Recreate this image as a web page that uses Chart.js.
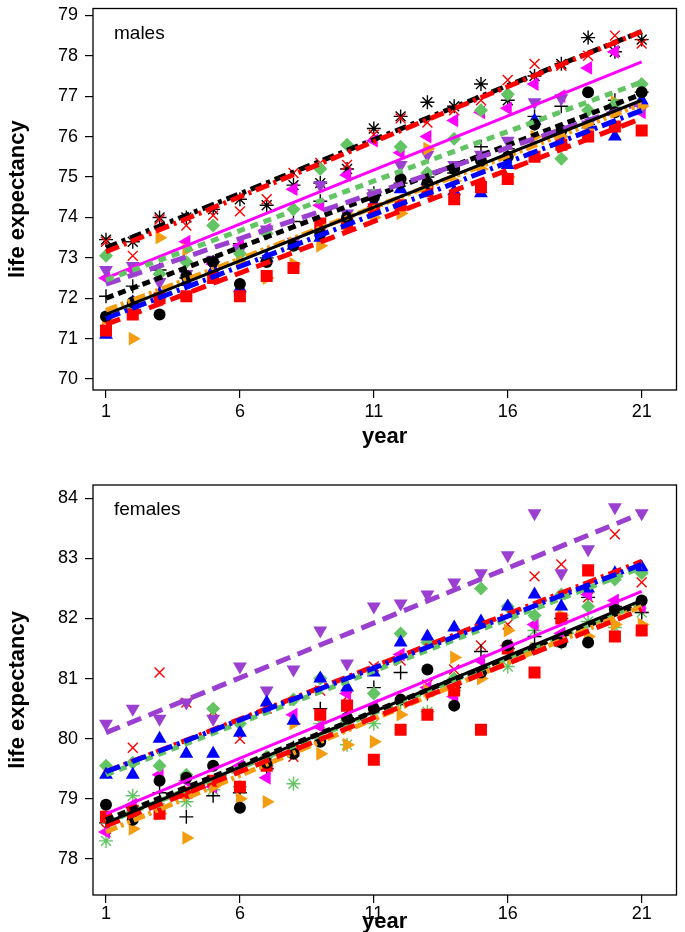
<html lang="en">
<head>
<meta charset="UTF-8">
<title>life expectancy</title>
<script src="https://cdn.jsdelivr.net/npm/chart.js"></script>
<style>
  body { margin: 0; background: #fff; }
  canvas { position: absolute; left: 0; }
  #top { top: 0; }
  #bottom { top: 465px; }
</style>
</head>
<body>
<canvas id="top" width="685" height="460"></canvas>
<canvas id="bottom" width="685" height="467"></canvas>

<script>
// x values
const years = [1, 2, 3, 4, 5, 6, 7, 8, 9, 10, 11, 12, 13, 14, 15, 16, 17, 18, 19, 20, 21];
const xTicks = [1, 6, 11, 16, 21];
const yTicksMales = [70, 71, 72, 73, 74, 75, 76, 77, 78, 79];
const yTicksFemales = [78, 79, 80, 81, 82, 83, 84];

// males, points
const mCircle   = [71.55, 71.9, 71.6, 72.55, 72.9, 72.35, 72.9, 73.3, 73.6, 74.0, 74.5, 74.95, 74.85, 75.2, 75.4, 75.5, 76.3, 76.15, 77.1, 76.6, 77.1];
const mSquare   = [71.2, 71.6, 72.0, 72.05, 72.5, 72.05, 72.55, 72.75, 73.85, 73.85, 74.2, 74.3, 74.65, 74.45, 74.75, 74.95, 75.5, 75.8, 76.0, 76.25, 76.15];
const mTriangle = [71.1, 71.9, 72.1, 72.4, 72.7, 72.25, 73.0, 73.3, 73.5, 74.0, 74.35, 74.7, 74.9, 74.65, 74.6, 75.3, 76.4, 75.9, 76.3, 76.0, 76.9];
const mDiamond  = [73.05, 71.75, 72.6, 72.9, 73.8, 73.1, 73.6, 74.2, 75.2, 75.8, 74.55, 75.75, 75.1, 75.95, 76.65, 77.05, 76.3, 75.45, 76.65, 76.8, 77.3];
const mRight    = [71.5, 71.0, 73.5, 73.2, 72.55, 72.9, 72.5, 72.85, 73.3, 73.7, 74.0, 74.1, 75.7, 74.9, 75.2, 75.0, 76.0, 76.0, 76.2, 76.85, 76.75];
const mDown     = [72.7, 72.8, 72.4, 72.6, 72.95, 73.2, 73.7, 73.4, 74.8, 74.1, 74.6, 75.3, 75.55, 75.3, 75.55, 75.9, 76.85, 76.95, 76.3, 76.2, 76.7];
const mLeft     = [72.5, 72.7, 72.05, 73.4, 72.85, 73.3, 73.7, 74.7, 74.3, 75.05, 75.9, 75.6, 76.0, 76.4, 76.6, 76.7, 77.3, 77.0, 77.7, 78.1, 76.6];
const mPlus     = [72.05, 72.3, 72.7, 72.5, 72.9, 73.35, 73.0, 73.9, 74.4, 73.9, 74.6, 74.85, 75.0, 75.1, 75.75, 75.7, 76.5, 76.75, 76.3, 76.9, 77.1];
const mCross    = [73.4, 73.05, 73.95, 73.8, 74.05, 74.15, 74.45, 75.1, 75.35, 75.3, 76.05, 76.45, 76.35, 76.65, 76.9, 77.4, 77.8, 77.75, 78.0, 78.5, 78.3];
const mStar     = [73.45, 73.4, 74.0, 74.0, 74.2, 74.45, 74.3, 74.8, 74.85, 75.2, 76.2, 76.5, 76.85, 76.75, 77.3, 76.9, 77.5, 77.8, 78.45, 78.1, 78.4];

// males, fitted lines: value at year 1 and at year 21
const mCircleFit   = [71.6, 76.9];
const mSquareFit   = [71.35, 76.45];
const mTriangleFit = [71.5, 76.65];
const mDiamondFit  = [72.45, 77.35];
const mRightFit    = [71.7, 76.8];
const mDownFit     = [72.35, 76.85];
const mLeftFit     = [72.5, 77.85];
const mPlusFit     = [72.0, 77.05];
const mCrossFit    = [73.15, 78.6];
const mStarFit     = [73.25, 78.6];

// females, points
const fCircle   = [78.9, 78.65, 79.3, 79.35, 79.55, 78.85, 79.6, 79.75, 79.95, 80.35, 80.5, 80.65, 81.15, 80.55, 81.1, 81.55, 81.5, 81.6, 81.6, 82.15, 82.3];
const fSquare   = [78.7, 78.8, 78.75, 79.1, 79.3, 79.2, 79.55, 79.8, 80.4, 80.55, 79.65, 80.15, 80.4, 80.8, 80.15, 81.5, 81.1, 82.0, 82.8, 81.7, 81.8];
const fTriangle = [79.4, 79.4, 80.0, 79.75, 79.75, 80.1, 80.6, 80.3, 81.0, 80.85, 81.1, 81.6, 81.7, 81.85, 81.95, 82.2, 82.4, 82.2, 82.5, 82.75, 82.85];
const fDiamond  = [79.55, 79.6, 79.55, 79.4, 80.5, 80.25, 79.7, 80.65, 81.0, 80.3, 80.75, 81.75, 81.6, 81.0, 82.5, 82.2, 82.05, 82.4, 82.2, 82.65, 82.75];
const fRight    = [78.7, 78.5, 78.75, 78.35, 79.2, 79.0, 78.95, 80.25, 79.75, 79.9, 79.95, 80.4, 80.8, 81.35, 81.0, 81.8, 81.5, 82.05, 81.7, 81.9, 81.9];
const fDown     = [80.25, 80.5, 80.33, 80.6, 80.33, 81.2, 80.8, 81.15, 81.8, 81.25, 82.2, 82.25, 82.4, 82.6, 82.75, 83.05, 83.75, 82.75, 83.15, 83.85, 83.75];
const fLeft     = [78.45, 78.9, 79.4, 79.3, 79.2, 79.55, 79.35, 80.4, 80.2, 80.75, 80.55, 81.4, 80.85, 80.7, 81.3, 81.55, 81.9, 81.75, 82.4, 82.3, 82.2];
const fPlus     = [78.6, 78.85, 79.1, 78.7, 79.05, 79.1, 79.5, 79.85, 80.5, 80.35, 80.85, 81.1, 80.75, 80.85, 81.45, 81.5, 81.7, 82.0, 82.35, 82.2, 82.1];
const fCross    = [78.5, 79.85, 81.1, 80.6, 80.45, 80.0, 80.5, 79.7, 80.8, 80.7, 81.2, 81.3, 80.9, 81.15, 81.55, 81.9, 82.7, 82.9, 82.35, 83.4, 82.6];
const fGStar    = [78.3, 79.05, 78.85, 78.95, 79.15, 79.2, 79.55, 79.25, 80.25, 79.9, 80.25, 80.6, 80.45, 80.8, 81.1, 81.2, 81.8, 81.6, 81.95, 81.85, 82.1];

// females, fitted lines
const fCircleFit   = [78.6, 82.3];
const fSquareFit   = [78.55, 82.15];
const fTriangleFit = [79.45, 82.9];
const fDiamondFit  = [79.4, 82.85];
const fRightFit    = [78.45, 82.2];
const fDownFit     = [80.1, 83.75];
const fLeftFit     = [78.75, 82.45];
const fPlusFit     = [78.65, 82.25];
const fCrossFit    = [79.45, 82.95];
const fGStarFit    = [78.6, 82.25];

// marker + line look for each group
const look = {
  circle:   { color: '#000000', pointStyle: 'circle',   rotation: 0,   radius: 6,   dash: [],             width: 3 },
  square:   { color: '#ff0000', pointStyle: 'rect',     rotation: 0,   radius: 8.5, dash: [15, 8],        width: 5 },
  triangle: { color: '#0000ff', pointStyle: 'triangle', rotation: 0,   radius: 8,   dash: [15, 5, 3, 5],  width: 5 },
  diamond:  { color: '#63c463', pointStyle: 'rectRot',  rotation: 0,   radius: 7,   dash: [8, 6],         width: 5 },
  right:    { color: '#f59d10', pointStyle: 'triangle', rotation: 90,  radius: 8,   dash: [12, 4, 3, 4, 3, 4], width: 5 },
  down:     { color: '#9a3fcf', pointStyle: 'triangle', rotation: 180, radius: 8,   dash: [15, 8],        width: 5 },
  left:     { color: '#ff00ff', pointStyle: 'triangle', rotation: 270, radius: 8,   dash: [],             width: 3 },
  plus:     { color: '#000000', pointStyle: 'cross',    rotation: 0,   radius: 7,   dash: [8, 5],         width: 5 },
  cross:    { color: '#ff0000', pointStyle: 'crossRot', rotation: 0,   radius: 7,   dash: [14, 5, 3, 5],  width: 5 },
  star:     { color: '#000000', pointStyle: 'star',     rotation: 0,   radius: 7,   dash: [12, 5, 4, 5],  width: 5 },
  gstar:    { color: '#63c463', pointStyle: 'star',     rotation: 0,   radius: 7,   dash: [10, 5],        width: 5 }
};

const FONT = '"Liberation Sans", Arial, sans-serif';

function buildDatasets(groups) {
  let ds = [];
  // points first
  groups.forEach(g => {
    let lk = look[g.key];
    let open = ['cross', 'crossRot', 'star'].includes(lk.pointStyle);
    ds.push({
      type: 'scatter',
      data: years.map((x, i) => ({ x: x, y: g.values[i] })),
      pointStyle: lk.pointStyle,
      rotation: lk.rotation,
      radius: lk.radius,
      backgroundColor: lk.color,
      borderColor: lk.color,
      borderWidth: open ? 1.4 : 0,
      order: 2
    });
  });
  // then the fitted lines on top
  groups.forEach(g => {
    let lk = look[g.key];
    ds.push({
      type: 'line',
      data: [{ x: years[0], y: g.fit[0] }, { x: years[years.length - 1], y: g.fit[1] }],
      borderColor: lk.color,
      borderWidth: lk.width,
      borderDash: lk.dash,
      pointRadius: 0,
      fill: false,
      order: 1
    });
  });
  return ds;
}

// frame round the plot area plus the panel label
const frame = {
  id: 'frame',
  afterDraw(chart, args, opts) {
    let a = chart.chartArea;
    let ctx = chart.ctx;
    ctx.save();
    ctx.strokeStyle = '#000';
    ctx.lineWidth = 1.3;
    ctx.strokeRect(a.left, a.top, a.right - a.left, a.bottom - a.top);
    ctx.fillStyle = '#000';
    ctx.font = '19px ' + FONT;
    ctx.textBaseline = 'middle';
    ctx.fillText(opts.label, a.left + 21, a.top + 25);
    ctx.restore();
  }
};

function makeChart(id, groups, yMin, yMax, yTicks, cfg) {
  let ctx = document.getElementById(id).getContext('2d');
  return new Chart(ctx, {
    data: { datasets: buildDatasets(groups) },
    options: {
      responsive: false,
      animation: false,
      layout: { padding: { top: cfg.padTop, right: 8, left: 0, bottom: 0 } },
      plugins: { legend: { display: false }, tooltip: { enabled: false }, frame: { label: cfg.label } },
      scales: {
        x: {
          type: 'linear',
          min: 0.515,
          max: 22.3,
          afterBuildTicks: s => { s.ticks = xTicks.map(v => ({ value: v })); },
          afterFit: s => { s.height = cfg.xHeight; s.paddingLeft = 0; s.paddingRight = 0; },
          grid: { drawOnChartArea: false, drawTicks: true, tickLength: 8, color: '#000', lineWidth: 1.2 },
          border: { display: false },
          ticks: { color: '#000', padding: cfg.xTickPad, maxRotation: 0, font: { size: 18, family: FONT } },
          title: { display: true, text: 'year', color: '#000', padding: { top: 0, bottom: cfg.xTitlePad },
                   font: { size: 22, weight: 'bold', family: FONT } }
        },
        y: {
          type: 'linear',
          min: yMin,
          max: yMax,
          afterBuildTicks: s => { s.ticks = yTicks.map(v => ({ value: v })); },
          afterFit: s => { s.width = 93; s.paddingTop = 0; s.paddingBottom = 0; },
          grid: { drawOnChartArea: false, drawTicks: true, tickLength: 8, color: '#000', lineWidth: 1.2 },
          border: { display: false },
          ticks: { color: '#000', padding: 7, font: { size: 18, family: FONT } },
          title: { display: true, text: 'life expectancy', color: '#000', padding: { top: 5, bottom: 0 },
                   font: { size: 22, weight: 'bold', family: FONT } }
        }
      }
    },
    plugins: [frame]
  });
}

makeChart('top', [
  { key: 'circle', values: mCircle, fit: mCircleFit },
  { key: 'square', values: mSquare, fit: mSquareFit },
  { key: 'triangle', values: mTriangle, fit: mTriangleFit },
  { key: 'diamond', values: mDiamond, fit: mDiamondFit },
  { key: 'right', values: mRight, fit: mRightFit },
  { key: 'down', values: mDown, fit: mDownFit },
  { key: 'left', values: mLeft, fit: mLeftFit },
  { key: 'plus', values: mPlus, fit: mPlusFit },
  { key: 'cross', values: mCross, fit: mCrossFit },
  { key: 'star', values: mStar, fit: mStarFit }
], 69.73, 79.17, yTicksMales, { label: 'males', padTop: 5, xHeight: 70, xTickPad: 3, xTitlePad: 10 });

makeChart('bottom', [
  { key: 'circle', values: fCircle, fit: fCircleFit },
  { key: 'square', values: fSquare, fit: fSquareFit },
  { key: 'triangle', values: fTriangle, fit: fTriangleFit },
  { key: 'diamond', values: fDiamond, fit: fDiamondFit },
  { key: 'right', values: fRight, fit: fRightFit },
  { key: 'down', values: fDown, fit: fDownFit },
  { key: 'left', values: fLeft, fit: fLeftFit },
  { key: 'plus', values: fPlus, fit: fPlusFit },
  { key: 'cross', values: fCross, fit: fCrossFit },
  { key: 'gstar', values: fGStar, fit: fGStarFit }
], 77.4, 84.22, yTicksFemales, { label: 'females', padTop: 20, xHeight: 37, xTickPad: 0, xTitlePad: -3 });
</script>
</body>
</html>
